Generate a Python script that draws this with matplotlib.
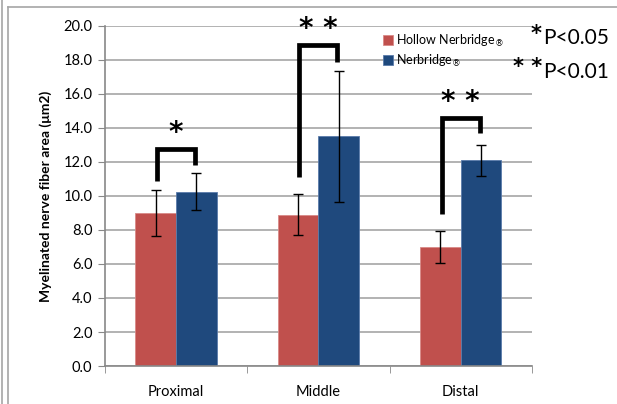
import numpy as np
import matplotlib.pyplot as plt
from matplotlib.lines import Line2D

plt.rcParams['font.family'] = ['Lato', 'DejaVu Sans']

# data
regions = ["Proximal", "Middle", "Distal"]
hollow = [9.0, 8.9, 7.0]
hollow_err = [1.35, 1.2, 0.95]
nerbridge = [10.25, 13.5, 12.1]
nerbridge_err = [1.07, 3.85, 0.92]

# significance brackets: top, left leg bottom, right leg bottom, label
br_top = [12.75, 18.85, 14.6]
br_left = [10.9, 11.1, 8.95]
br_right = [11.8, 17.9, 13.7]
br_label = ["*", "* *", "* *"]

red = "#C0504D"
blue = "#1F497D"

fig = plt.figure(figsize=(6.17, 4.04), dpi=100)
ax = fig.add_axes([0.170, 0.094, 0.692, 0.842])

x = np.arange(len(regions))
w = 1 / 3.5

ax.bar(x - w / 2, hollow, w, color=red, edgecolor="#D88A88", linewidth=0.6, zorder=2,
       label="Hollow Nerbridge$_{\\circledR}$")
ax.bar(x + w / 2, nerbridge, w, color=blue, edgecolor="#5A7BAA", linewidth=0.6, zorder=2,
       label="Nerbridge$_{\\circledR}$")
ax.errorbar(x - w / 2, hollow, yerr=hollow_err, fmt="none", ecolor="black",
            elinewidth=1, capsize=3.5, capthick=1, zorder=3)
ax.errorbar(x + w / 2, nerbridge, yerr=nerbridge_err, fmt="none", ecolor="black",
            elinewidth=1, capsize=3.5, capthick=1, zorder=3)

# brackets
for i in range(len(regions)):
    xl = x[i] - w / 2 + 0.01
    xr = x[i] + w / 2 - 0.01
    ax.plot([xl, xl, xr, xr], [br_left[i], br_top[i], br_top[i], br_right[i]],
            color="black", lw=3.4, solid_joinstyle="miter", solid_capstyle="butt", zorder=4)
    ax.text(x[i], br_top[i] + 0.95, br_label[i], ha="center", va="center",
            fontsize=20, family="DejaVu Sans", fontweight="bold", zorder=4)

ax.set_xlim(-0.5, 2.5)
ax.set_ylim(0, 20)
ax.set_yticks(np.arange(0, 20.1, 2.0))
ax.set_yticklabels([f"{v:.1f}" for v in np.arange(0, 20.1, 2.0)], fontsize=10.5)
ax.set_xticks(x)
ax.set_xticklabels(regions, fontsize=10.5)
ax.set_xticks([-0.5, 0.5, 1.5, 2.5], minor=True)
ax.tick_params(axis="x", which="major", length=0, pad=14)
ax.tick_params(axis="x", which="minor", length=5, color="#888888", direction="out")
ax.tick_params(axis="y", length=5, color="#888888", direction="out", pad=4)
ax.yaxis.grid(True, color="#A6A6A6", linewidth=1.2, zorder=0)
ax.set_axisbelow(True)
for s in ["top", "right"]:
    ax.spines[s].set_visible(False)
for s in ["left", "bottom"]:
    ax.spines[s].set_color("#888888")
    ax.spines[s].set_linewidth(1.2)

ax.set_ylabel("Myelinated nerve fiber area (μm2)", fontsize=10, fontweight="bold", labelpad=8)

leg = ax.legend(loc="upper left", bbox_to_anchor=(0.64, 0.995), frameon=False,
                fontsize=9, handlelength=0.8, handleheight=0.8, handletextpad=0.2,
                labelspacing=0.3, borderaxespad=0)

# p-value notes
px = 543 / 617
fig.text(px, 0.905, "P<0.05", fontsize=15, ha="left", va="center")
fig.text(px, 0.823, "P<0.01", fontsize=15, ha="left", va="center")
fig.text(px - 0.002, 0.915, "*", fontsize=15, family="DejaVu Sans", fontweight="bold",
         ha="right", va="center")
fig.text(px - 0.002, 0.833, "* *", fontsize=15, family="DejaVu Sans", fontweight="bold",
         ha="right", va="center")

# chart frame lines
fig.add_artist(Line2D([0.013, 0.013], [0.982, 0.0], color="#A6A6A6", lw=1.2))
fig.add_artist(Line2D([0.013, 1.0], [0.982, 0.982], color="#A6A6A6", lw=1.2))
fig.add_artist(Line2D([0.003, 0.003], [1.0, 0.0], color="#A6A6A6", lw=1.2))

fig.savefig("out.png", dpi=100)
